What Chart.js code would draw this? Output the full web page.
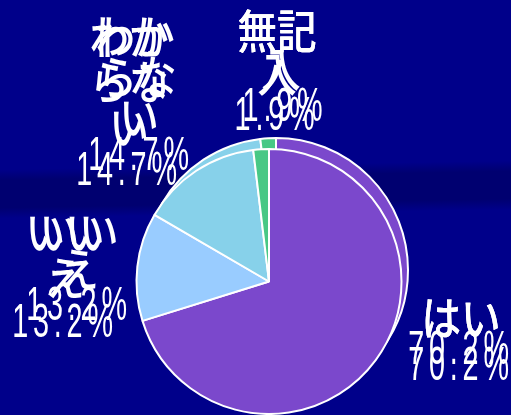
<!DOCTYPE html>
<html>
<head>
<meta charset="utf-8">
<script src="https://cdn.jsdelivr.net/npm/chart.js@4/dist/chart.umd.min.js"></script>
<style>
  html, body { margin: 0; padding: 0; }
  body {
    width: 511px; height: 415px; overflow: hidden; position: relative;
    background: linear-gradient(179deg, #00008A 0%, #00008A 40%, #000070 42.5%, #000070 49%, #00008A 51.5%, #00008A 100%);
  }
  canvas { position: absolute; left: 0; top: 0; }
</style>
</head>
<body>
<canvas id="back" width="511" height="415"></canvas>
<canvas id="front" width="511" height="415"></canvas>
<script>
// ---- data ----
const categories = ['はい', 'いいえ', 'わからない', '無記入'];
const percentValues = [70.2, 13.2, 14.7, 1.9];
const sliceColors = ['#7B48CC', '#99CCFF', '#87D1EA', '#48C885'];

// ---- label layout (relative to pie centre) ----
const labelLayout = [
  { dx: 192,  dy: 36,   lh: 49, back: { dx0: 0,  dxL: 0,  dyL: -16 } },
  { dx: -204, dy: -50,  lh: 46, back: { dx0: 14, dxL: 14, dyL: -17 } },
  { dx: -140, dy: -245, lh: 45, back: { dx0: 6,  dxL: 12, dyL: -15 } },
  { dx: 8,    dy: -251, lh: 43, back: { dx0: 0,  dxL: 8,  dyL: -9 } }
];

function splitName(name) {
  const out = [];
  for (let i = 0; i < name.length; i += 2) out.push(name.slice(i, i + 2));
  return out;
}

function drawLine(ctx, text, x, y, isPct) {
  ctx.save();
  ctx.translate(x, y);
  ctx.fillStyle = '#FFFFFF';
  ctx.textAlign = 'center';
  ctx.textBaseline = 'middle';
  if (isPct) {
    ctx.scale(0.6, 1);
    ctx.font = '48px "Liberation Sans", sans-serif';
    ctx.letterSpacing = '8px';
  } else {
    ctx.scale(0.86, 1);
    ctx.font = '500 46px "Noto Sans CJK JP", sans-serif';
  }
  ctx.fillText(text, 0, 0);
  ctx.restore();
}

const labelPlugin = {
  id: 'pieLabels',
  afterDatasetsDraw(chart) {
    const meta = chart.getDatasetMeta(0);
    const ctx = chart.ctx;
    meta.data.forEach((arc, i) => {
      const L = labelLayout[i];
      const lines = splitName(categories[i]).map(t => ({ t, pct: false }));
      lines.push({ t: percentValues[i].toFixed(1) + '%', pct: true });
      const n = lines.length;
      const bx = arc.x + L.dx, by = arc.y + L.dy;
      // shadow copy
      lines.forEach((ln, k) => {
        const f = n > 1 ? k / (n - 1) : 0;
        const ox = L.back.dx0 + (L.back.dxL - L.back.dx0) * f;
        const oy = L.back.dyL * f;
        drawLine(ctx, ln.t, bx + ox, by + k * L.lh + oy, ln.pct);
      });
      // main copy
      lines.forEach((ln, k) => {
        drawLine(ctx, ln.t, bx, by + k * L.lh, ln.pct);
      });
    });
  }
};

function makePie(id, padding, plugins) {
  return new Chart(document.getElementById(id), {
    type: 'pie',
    data: {
      labels: categories,
      datasets: [{
        data: percentValues,
        backgroundColor: sliceColors,
        borderColor: '#FFFFFF',
        borderWidth: 2
      }]
    },
    options: {
      responsive: false,
      devicePixelRatio: 1,
      animation: false,
      layout: { padding },
      plugins: { legend: { display: false }, tooltip: { enabled: false } }
    },
    plugins
  });
}

makePie('back', { left: 143, right: 102, top: 137, bottom: 12 }, []);
makePie('front', { left: 135, right: 108, top: 148, bottom: 0 }, [labelPlugin]);
</script>
</body>
</html>
